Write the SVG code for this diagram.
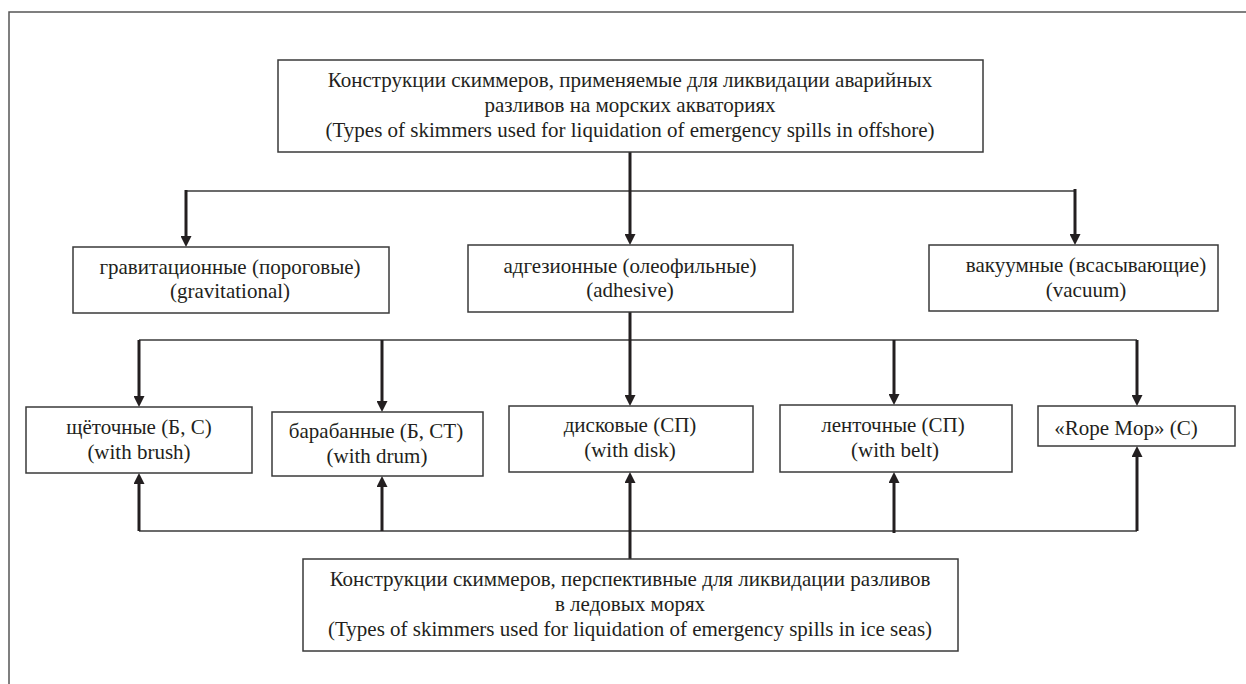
<svg xmlns="http://www.w3.org/2000/svg" width="1246" height="684" viewBox="0 0 1246 684">
<style>
.box{fill:#fff;stroke:#3a3a3a;stroke-width:1.5}
.t{font-family:"Liberation Serif","Times New Roman",serif;font-size:21px;fill:#231f20;text-anchor:middle}
.h{stroke:#3a3a3a;stroke-width:1.4;fill:none}
.a{stroke:#231f20;stroke-width:3;fill:none;marker-end:url(#ah)}
.frame{stroke:#555;stroke-width:1.5;fill:none}
</style>
<defs>
<marker id="ah" markerUnits="userSpaceOnUse" markerWidth="11" markerHeight="11" refX="1" refY="5.5" orient="auto" viewBox="0 0 11 11">
<path d="M0,0 L11,5.5 L0,11 z" fill="#231f20"/>
</marker>
</defs>
<rect width="1246" height="684" fill="#fff"/>
<path class="frame" d="M9,684 V12 H1246"/>

<g id="connectors">
<path class="h" d="M186,191 H1075"/>
<path class="h" d="M139,340 H1137"/>
<path class="h" d="M139,531 H1137"/>
<path class="a" d="M630,152 V235"/>
<path class="a" d="M186,190 V237"/>
<path class="a" d="M1075,189 V235"/>
<path class="a" d="M139,340 V397"/>
<path class="a" d="M382,340 V402"/>
<path class="a" d="M630,312 V396"/>
<path class="a" d="M894,340 V395"/>
<path class="a" d="M1137,340 V396"/>
<path class="a" d="M139,531 V483"/>
<path class="a" d="M382,531 V486"/>
<path class="a" d="M630,559 V482"/>
<path class="a" d="M894,533 V482"/>
<path class="a" d="M1137,531 V456"/>
</g>

<g id="top">
<rect class="box" x="278" y="60" width="705" height="92"/>
<text class="t" x="630" y="87">Конструкции скиммеров, применяемые для ликвидации аварийных</text>
<text class="t" x="630" y="112">разливов на морских акваториях</text>
<text class="t" x="630" y="137">(Types of skimmers used for liquidation of emergency spills in offshore)</text>
</g>

<g id="gravitational">
<rect class="box" x="73" y="247" width="316" height="66"/>
<text class="t" x="230" y="274">гравитационные (пороговые)</text>
<text class="t" x="230" y="298">(gravitational)</text>
</g>

<g id="adhesive">
<rect class="box" x="468" y="245" width="325" height="67"/>
<text class="t" x="630" y="273">адгезионные (олеофильные)</text>
<text class="t" x="630" y="297">(adhesive)</text>
</g>

<g id="vacuum">
<rect class="box" x="929" y="245" width="289" height="66"/>
<text class="t" x="1086" y="272">вакуумные (всасывающие)</text>
<text class="t" x="1086" y="297">(vacuum)</text>
</g>

<g id="brush">
<rect class="box" x="26" y="407" width="226" height="66"/>
<text class="t" x="139" y="434">щёточные (Б, С)</text>
<text class="t" x="139" y="459">(with brush)</text>
</g>

<g id="drum">
<rect class="box" x="272" y="412" width="211" height="64"/>
<text class="t" x="376" y="438">барабанные (Б, СТ)</text>
<text class="t" x="377" y="463">(with drum)</text>
</g>

<g id="disk">
<rect class="box" x="509" y="406" width="244" height="66"/>
<text class="t" x="630" y="432">дисковые (СП)</text>
<text class="t" x="630" y="457">(with disk)</text>
</g>

<g id="belt">
<rect class="box" x="780" y="405" width="232" height="67"/>
<text class="t" x="893" y="432">ленточные (СП)</text>
<text class="t" x="895" y="457">(with belt)</text>
</g>

<g id="ropemop">
<rect class="box" x="1038" y="406" width="197" height="40"/>
<text class="t" x="1126" y="435">«Rope Mop» (С)</text>
</g>

<g id="bottom">
<rect class="box" x="303" y="559" width="655" height="92"/>
<text class="t" x="630" y="586">Конструкции скиммеров, перспективные для ликвидации разливов</text>
<text class="t" x="630" y="611">в ледовых морях</text>
<text class="t" x="630" y="636">(Types of skimmers used for liquidation of emergency spills in ice seas)</text>
</g>
</svg>
